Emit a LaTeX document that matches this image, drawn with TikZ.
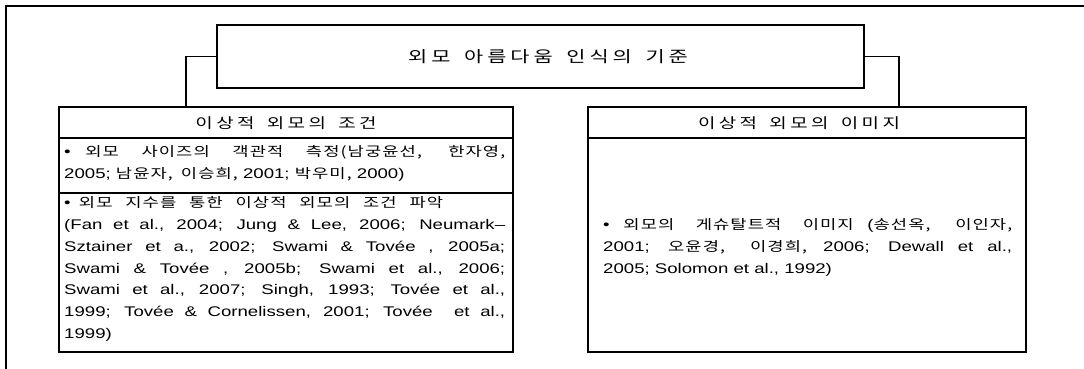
\documentclass[tikz,border=0pt]{standalone}
\usepackage{fontspec}
\setmainfont{Liberation Sans}[FakeStretch=1.33]
\newfontfamily\krf{Noto Sans CJK KR}[FakeStretch=1.33,Scale=0.95,WordSpace=1.6,LetterSpace=8]
\newfontfamily\krh{Noto Sans CJK KR}[FakeStretch=1.33,Scale=0.95,WordSpace=1.6,LetterSpace=24]
\newfontfamily\krt{Noto Sans CJK KR}[FakeStretch=1.33,Scale=0.95,WordSpace=1.6,LetterSpace=25]
\newcommand\kor[1]{{\krf #1}}
\newcommand\jl[2]{\makebox[#1][s]{#2}\\}
\begin{document}
\begin{tikzpicture}[x=1pt,y=1pt,
  boxline/.style={draw=black,line width=2pt},
  cell/.style={boxline,rectangle,inner sep=0pt,fill=none},
  conn/.style={draw=black,line width=1.6pt},
  body/.style={inner sep=0pt,anchor=base west,align=left,font=\fontsize{14}{21.7}\selectfont},
  head/.style={inner sep=0pt,font=\fontsize{15}{18}\selectfont\krh}]
\useasboundingbox (0,0) rectangle (1084,369);
% outer frame (top and left edges)
\coordinate (fa) at (6,0);
\coordinate (fb) at (6,363);
\coordinate (fc) at (1084,363);
\draw[boxline] (fa) -- (fb) -- (fc);
% title
\node[cell,minimum width=647pt,minimum height=63pt] (title) at (540.5,312.5) {};
\node[inner sep=0pt,font=\fontsize{16.5}{20}\selectfont\krt] (titletext) at (548,312) {외모 아름다움 인식의 기준};
% left column
\node[cell,minimum width=454pt,minimum height=31pt] (lhead) at (286,246.5) {};
\node[cell,minimum width=454pt,minimum height=55pt] (lr1) at (286,203.5) {};
\node[cell,minimum width=454pt,minimum height=159pt] (lr2) at (286,96.5) {};
\node[head] (lheadtext) at (286,246) {이상적 외모의 조건};
% (base anchor of a multi-line node = baseline of its last line)
\node[body] (lr1text) at (64,190.3) {%
\jl{441pt}{• \kor{외모 사이즈의 객관적 측정(남궁윤선, 한자영,}}
2005; \kor{남윤자, 이승희,} 2001; \kor{박우미,} 2000)};
\node[body] (lr2text) at (64,30.8) {%
\jl{379pt}{• \kor{외모 지수를 통한 이상적 외모의 조건 파악}}
\jl{441pt}{(Fan et al., 2004; Jung \& Lee, 2006; Neumark–}
\jl{441pt}{Sztainer et a., 2002; Swami \& Tovée , 2005a;}
\jl{441pt}{Swami \& Tovée , 2005b; Swami et al., 2006;}
\jl{441pt}{Swami et al., 2007; Singh, 1993; Tovée et al.,}
\jl{441pt}{1999; Tovée \& Cornelissen, 2001; Tovée\ \ et al.,}
1999)};
% right column
\node[cell,minimum width=438pt,minimum height=31pt] (rhead) at (807,246.5) {};
\node[cell,minimum width=438pt,minimum height=214pt] (rbody) at (807,124) {};
\node[head] (rheadtext) at (799,246) {이상적 외모의 이미지};
\node[body] (rbodytext) at (603,95.6) {%
\jl{409pt}{• \kor{외모의 게슈탈트적 이미지} (\kor{송선옥, 이인자,}}
\jl{409pt}{2001; \kor{오윤경, 이경희,} 2006; Dewall et al.,}
2005; Solomon et al., 1992)};
% connectors
\coordinate (lc) at (186,262);
\coordinate (rc) at (899,262);
\draw[conn] (title.west) -| (lc);
\draw[conn] (title.east) -| (rc);
\end{tikzpicture}
\end{document}
